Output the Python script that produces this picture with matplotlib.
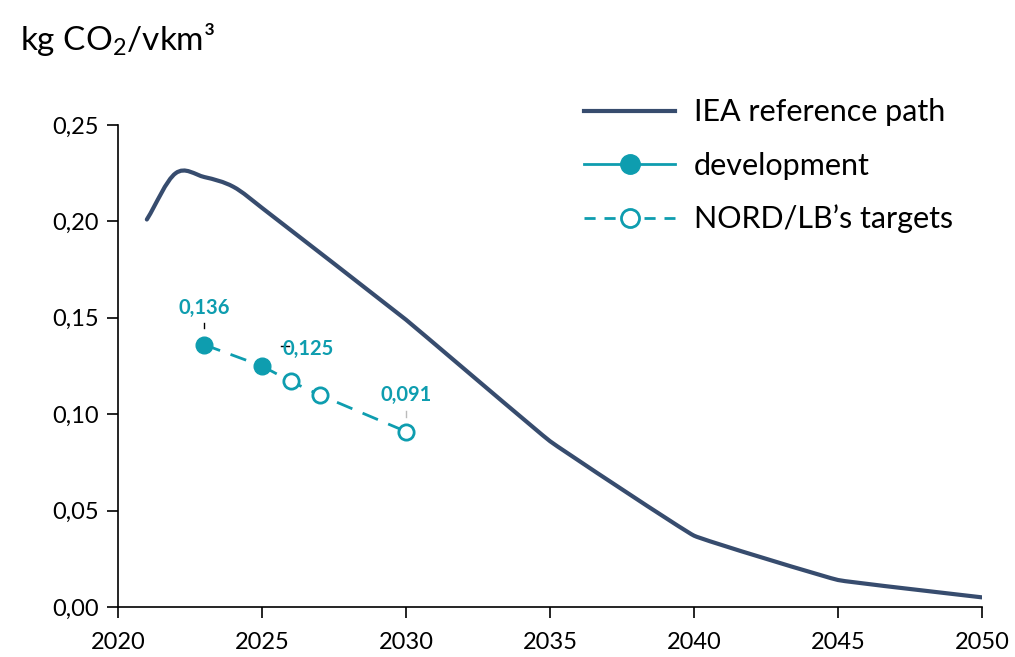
import numpy as np
import matplotlib.pyplot as plt
from matplotlib.lines import Line2D
from matplotlib.path import Path
from matplotlib.patches import PathPatch

plt.rcParams['font.family'] = ['Lato', 'DejaVu Sans']
plt.rcParams['mathtext.fontset'] = 'custom'
plt.rcParams['mathtext.rm'] = 'Lato'

navy = '#374c6e'
teal = '#0e9daf'

# IEA reference path
iea_years = [2021, 2022, 2023, 2024, 2025, 2030, 2035, 2040, 2045, 2050]
iea_vals = [0.201, 0.225, 0.223, 0.218, 0.207, 0.149, 0.086, 0.037, 0.014, 0.005]

# development (actuals)
dev_years = [2023, 2025]
dev_vals = [0.136, 0.125]

# NORD/LB's targets
tgt_years = [2025, 2026, 2027, 2030]
tgt_vals = [0.125, 0.117, 0.110, 0.091]


def smooth_path(xs, ys, h=1 / 3):
    # smoothed line with short Bezier handles (rounded corners, straight long runs)
    x = np.asarray(xs, float)
    y = np.asarray(ys, float)
    n = len(x)
    m = np.empty(n)
    m[0] = (y[1] - y[0]) / (x[1] - x[0])
    m[-1] = (y[-1] - y[-2]) / (x[-1] - x[-2])
    m[1:-1] = (y[2:] - y[:-2]) / (x[2:] - x[:-2])
    verts, codes = [(x[0], y[0])], [Path.MOVETO]
    for i in range(n - 1):
        d = min(h, (x[i + 1] - x[i]) / 3)
        verts += [(x[i] + d, y[i] + m[i] * d), (x[i + 1] - d, y[i + 1] - m[i + 1] * d),
                  (x[i + 1], y[i + 1])]
        codes += [Path.CURVE4] * 3
    return Path(verts, codes)


fig = plt.figure(figsize=(10.15, 6.57), dpi=100)
ax = fig.add_axes([0.1163, 0.0761, 0.8512, 0.7336])

ax.add_patch(PathPatch(smooth_path(iea_years, iea_vals), fill=False, edgecolor=navy,
                       lw=3, capstyle='round', joinstyle='round'))
ax.plot(tgt_years, tgt_vals, color=teal, lw=2, ls=(0, (6, 4)))
ax.plot(tgt_years[1:], tgt_vals[1:], ls='none', marker='o', ms=11,
        mfc='white', mec=teal, mew=2)
ax.plot(dev_years, dev_vals, color=teal, lw=2, ls=(0, (6, 4)),
        marker='o', ms=12, mfc=teal, mec=teal)

# data labels
ax.annotate('0,136', (dev_years[0], dev_vals[0]), xytext=(0, 22), textcoords='offset points',
            ha='center', color=teal, fontsize=14.5, fontweight='bold')
ax.plot([dev_years[0]] * 2, [0.1445, 0.1475], color='black', lw=1)
ax.annotate('0,125', (dev_years[1], dev_vals[1]), xytext=(33, 8), textcoords='offset points',
            ha='center', color=teal, fontsize=14.5, fontweight='bold')
ax.plot([2025.65, 2025.95], [0.1355, 0.1355], color='black', lw=1)
ax.annotate('0,091', (tgt_years[-1], tgt_vals[-1]), xytext=(0, 22), textcoords='offset points',
            ha='center', color=teal, fontsize=14.5, fontweight='bold')
ax.plot([tgt_years[-1]] * 2, [0.0985, 0.1015], color='#bbbbbb', lw=1)

ax.set_xlim(2020, 2050)
ax.set_ylim(0, 0.25)
ax.set_xticks(range(2020, 2051, 5))
ax.set_yticks([0, 0.05, 0.10, 0.15, 0.20, 0.25])
ax.set_yticklabels(['0,00', '0,05', '0,10', '0,15', '0,20', '0,25'])
ax.tick_params(axis='both', labelsize=17, length=8, width=1.2, direction='out')
ax.tick_params(axis='x', pad=10)
ax.tick_params(axis='y', pad=6)
ax.spines['top'].set_visible(False)
ax.spines['right'].set_visible(False)
ax.spines['left'].set_linewidth(1.2)
ax.spines['bottom'].set_linewidth(1.2)

fig.text(0.02, 0.94, 'kg CO$_\\mathregular{2}$/vkm³', fontsize=24, va='center')

handles = [
    Line2D([], [], color=navy, lw=3),
    Line2D([], [], color=teal, lw=2, marker='o', ms=14, mfc=teal, mec=teal),
    Line2D([], [], color=teal, lw=2, ls=(0, (4, 3.2)), marker='o', ms=13, mfc='white', mec=teal, mew=2),
]
labels = ['IEA reference path', 'development', "NORD/LB’s targets"]
fig.legend(handles, labels, loc='upper left', bbox_to_anchor=(0.548, 0.892),
           frameon=False, fontsize=22, handlelength=3.0, labelspacing=0.82, handletextpad=0.6)

fig.savefig('out.png', dpi=100)
